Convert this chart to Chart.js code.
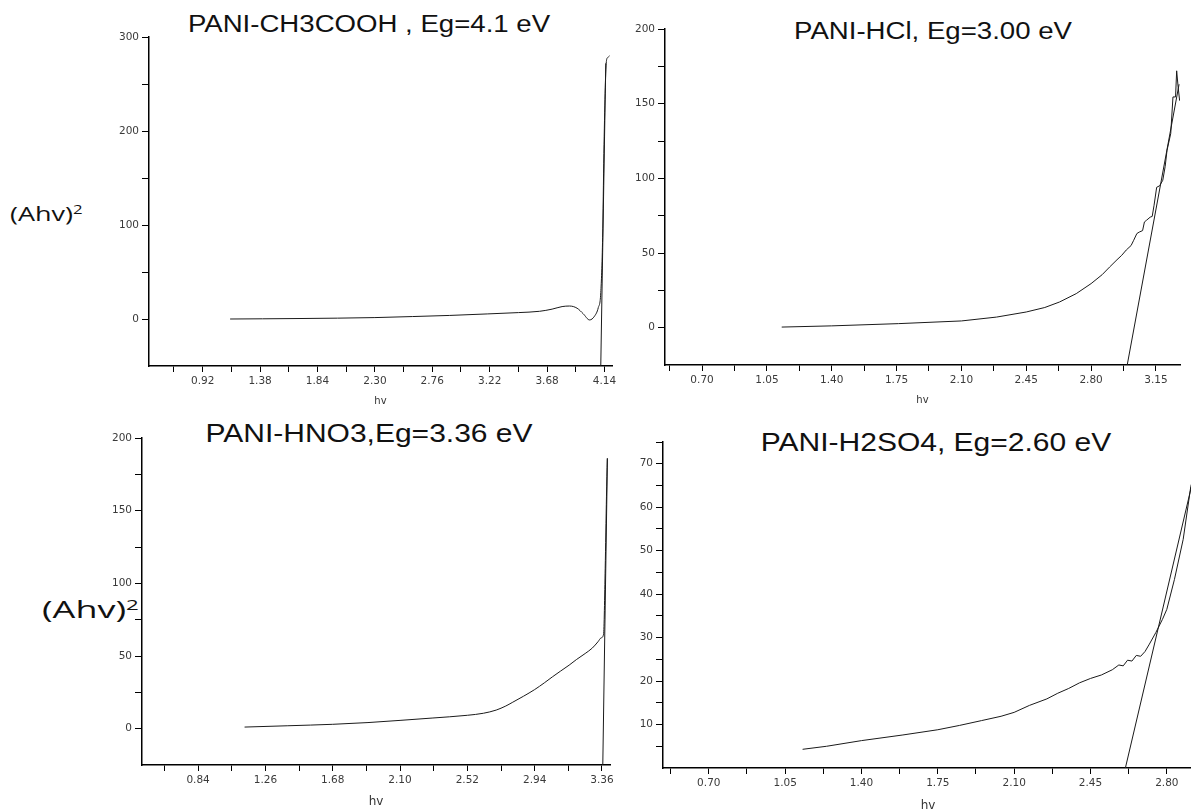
<!DOCTYPE html>
<html lang="en">
<head>
    <meta charset="UTF-8">
    <title>PANI band gap (Tauc plots)</title>
    <script src="https://cdn.jsdelivr.net/npm/chart.js"></script>
    <style>
        * {
            margin: 0;
            padding: 0;
            box-sizing: border-box;
        }
        body {
            width: 1191px;
            height: 812px;
            overflow: hidden;
            position: relative;
            background: #fff;
            font-family: 'Liberation Sans', Arial, sans-serif;
        }
        .panel {
            position: absolute;
        }
        .title {
            position: absolute;
            color: #111;
            white-space: nowrap;
            transform: translateX(-50%) scaleX(1.2);
        }
        .ylab {
            position: absolute;
            font-family: 'Open Sans', sans-serif;
            color: #111;
            white-space: nowrap;
            transform-origin: left center;
        }
        .ylab sup {
            font-size: 0.62em;
            vertical-align: 0.55em;
            line-height: 0;
        }
    </style>
</head>
<body>
    <div class="title" style="left: 369px; top: 13px; font-size: 23px; line-height: 23px;">PANI-CH3COOH , Eg=4.1 eV</div>
    <div class="title" style="left: 933px; top: 20px; font-size: 23px; line-height: 23px;">PANI-HCl, Eg=3.00 eV</div>
    <div class="title" style="left: 369px; top: 421px; font-size: 25px; line-height: 25px;">PANI-HNO3,Eg=3.36 eV</div>
    <div class="title" style="left: 936px; top: 430px; font-size: 25px; line-height: 25px;">PANI-H2SO4, Eg=2.60 eV</div>

    <div class="ylab" style="left: 10px; top: 200px; font-size: 20px; line-height: 28px; transform: scaleX(1.35);">(Ahv)<sup>2</sup></div>
    <div class="ylab" style="left: 42px; top: 592px; font-size: 24px; line-height: 34px; transform: scaleX(1.5);">(Ahv)<sup>2</sup></div>

    <div class="panel" style="left: 109px; top: 27px; width: 517px; height: 380px;"><canvas id="chart1"></canvas></div>
    <div class="panel" style="left: 625px; top: 19px; width: 569px; height: 387px;"><canvas id="chart2"></canvas></div>
    <div class="panel" style="left: 102px; top: 428px; width: 522px; height: 381px;"><canvas id="chart3"></canvas></div>
    <div class="panel" style="left: 623px; top: 432px; width: 572px; height: 381px;"><canvas id="chart4"></canvas></div>

    <script>
        // PANI-CH3COOH
        const hv1 = [1.14, 1.40, 1.70, 2.00, 2.30, 2.60, 2.90, 3.20, 3.45, 3.62, 3.72, 3.80, 3.86, 3.92, 3.97, 4.02, 4.06, 4.09, 4.11, 4.125, 4.135, 4.145, 4.155, 4.165, 4.18];
        const ahv1 = [0, 0.2, 0.5, 0.9, 1.5, 2.6, 3.8, 5.4, 6.8, 8.2, 10.5, 13.2, 13.8, 11.5, 5.5, -1, 3, 12, 28, 87, 176, 240, 274, 278, 280];
        const tanHv1 = [4.11, 4.15];
        const tanAhv1 = [-50, 272];
        const xTicks1 = [0.92, 1.38, 1.84, 2.30, 2.76, 3.22, 3.68, 4.14];
        const yTicks1 = [0, 100, 200, 300];

        // PANI-HCl
        const hv2 = [1.13, 1.40, 1.76, 2.10, 2.29, 2.45, 2.55, 2.63, 2.72, 2.80, 2.86, 2.90, 2.94, 2.965, 2.99, 3.016, 3.03, 3.047, 3.06, 3.078, 3.088, 3.10, 3.119, 3.13, 3.14, 3.154, 3.17, 3.187, 3.20, 3.21, 3.23, 3.242, 3.256, 3.262, 3.27, 3.278];
        const ahv2 = [0.4, 1.2, 2.7, 4.5, 7.1, 10.5, 13.5, 17.2, 22.8, 29.5, 35.5, 40.6, 45.5, 48.4, 52, 55, 58.5, 63, 64, 65, 70.8, 72, 74, 74.5, 82, 94, 95, 98.7, 108, 118.8, 130, 154.5, 154.5, 172, 161, 152];
        const tanHv2 = [2.995, 3.275];
        const tanAhv2 = [-25, 163];
        const xTicks2 = [0.70, 1.05, 1.40, 1.75, 2.10, 2.45, 2.80, 3.15];
        const yTicks2 = [0, 50, 100, 150, 200];

        // PANI-HNO3
        const hv3 = [1.13, 1.40, 1.68, 1.90, 2.10, 2.30, 2.52, 2.62, 2.70, 2.76, 2.80, 2.87, 2.94, 3.00, 3.05, 3.10, 3.155, 3.20, 3.255, 3.30, 3.335, 3.355, 3.37, 3.38, 3.388, 3.393];
        const ahv3 = [1.1, 2.0, 3.0, 4.2, 5.7, 7.3, 9.2, 10.6, 12.8, 15.6, 18.0, 22.3, 26.9, 31.5, 35.6, 39.5, 43.7, 47.5, 51.7, 55.5, 59.8, 62.5, 65, 110, 160, 186];
        const tanHv3 = [3.365, 3.394];
        const tanAhv3 = [-25, 186];
        const xTicks3 = [0.84, 1.26, 1.68, 2.10, 2.52, 2.94, 3.36];
        const yTicks3 = [0, 50, 100, 150, 200];

        // PANI-H2SO4
        const hv4 = [1.13, 1.24, 1.40, 1.59, 1.75, 1.85, 1.95, 2.04, 2.10, 2.17, 2.25, 2.30, 2.35, 2.40, 2.45, 2.50, 2.55, 2.58, 2.60, 2.62, 2.64, 2.66, 2.68, 2.70, 2.72, 2.75, 2.78, 2.80, 2.835, 2.875, 2.91, 2.92];
        const ahv4 = [4.3, 5.0, 6.3, 7.6, 8.8, 9.8, 10.9, 11.9, 12.8, 14.4, 15.9, 17.2, 18.3, 19.6, 20.6, 21.4, 22.6, 23.7, 23.5, 24.8, 24.6, 25.9, 25.7, 26.8, 28.5, 31.2, 34.2, 36.5, 43.4, 52.6, 64.8, 66.5];
        const tanHv4 = [2.61, 2.92];
        const tanAhv4 = [0, 66.3];
        const xTicks4 = [0.70, 1.05, 1.40, 1.75, 2.10, 2.45, 2.80];
        const yTicks4 = [0, 10, 20, 30, 40, 50, 60, 70];

        const ink = '#1a1a1a';
        const tickFont = { family: "'DejaVu Sans', sans-serif", size: 10.5 };

        // major ticks with labels plus unlabelled minor ticks halfway between
        function tickList(majors, min, max, digits) {
            const step = majors[1] - majors[0];
            const list = [];
            majors.forEach(m => {
                list.push({ value: m, lab: m.toFixed(digits) });
                list.push({ value: m - step / 2, lab: '' });
                list.push({ value: m + step / 2, lab: '' });
            });
            const seen = {};
            return list.filter(t => {
                const key = t.value.toFixed(4);
                if (seen[key] || t.value < min - 1e-9 || t.value > max + 1e-9) return false;
                seen[key] = true;
                return true;
            }).sort((a, b) => a.value - b.value);
        }

        function toPoints(xs, ys) {
            return xs.map((x, i) => ({ x: x, y: ys[i] }));
        }

        function createPanel(id, p) {
            const xt = tickList(p.xTicks, p.xMin, p.xMax, 2);
            const yt = tickList(p.yTicks, p.yMin + 0.001, p.yMax, 0);
            return new Chart(document.getElementById(id), {
                type: 'line',
                data: {
                    datasets: [{
                        data: toPoints(p.hv, p.ahv),
                        borderColor: ink,
                        borderWidth: 1,
                        pointRadius: 0,
                        cubicInterpolationMode: p.smooth ? 'monotone' : 'default',
                        tension: 0
                    }, {
                        data: toPoints(p.tanHv, p.tanAhv),
                        borderColor: ink,
                        borderWidth: 1,
                        pointRadius: 0
                    }]
                },
                options: {
                    responsive: true,
                    maintainAspectRatio: false,
                    animation: false,
                    events: [],
                    layout: { padding: { left: 0, right: p.padRight, top: 10, bottom: 0 } },
                    plugins: {
                        legend: { display: false },
                        tooltip: { enabled: false }
                    },
                    scales: {
                        x: {
                            type: 'linear',
                            min: p.xMin,
                            max: p.xMax,
                            afterBuildTicks: s => { s.ticks = xt.map(t => ({ value: t.value, lab: t.lab })); },
                            afterFit: s => { s.height = p.xAxisHeight; },
                            border: { display: true, color: '#000', width: 1.5 },
                            grid: { drawOnChartArea: false, drawTicks: true, tickLength: 6, tickColor: '#000', tickWidth: 1 },
                            ticks: {
                                autoSkip: false,
                                maxRotation: 0,
                                padding: 3,
                                color: '#3a3a3a',
                                font: tickFont,
                                callback: (v, i, ticks) => ticks[i].lab
                            },
                            title: {
                                display: true,
                                text: 'hv',
                                color: '#333',
                                font: { family: "'DejaVu Sans', sans-serif", size: p.hvSize },
                                padding: { top: 0, bottom: 0 }
                            }
                        },
                        y: {
                            min: p.yMin,
                            max: p.yMax,
                            afterBuildTicks: s => { s.ticks = yt.map(t => ({ value: t.value, lab: t.lab })); },
                            afterFit: s => { s.width = 40; },
                            border: { display: true, color: '#000', width: 1.5 },
                            grid: { drawOnChartArea: false, drawTicks: true, tickLength: 7, tickColor: '#000', tickWidth: 1 },
                            ticks: {
                                autoSkip: false,
                                padding: 3,
                                color: '#3a3a3a',
                                font: tickFont,
                                callback: (v, i, ticks) => ticks[i].lab
                            }
                        }
                    }
                }
            });
        }

        createPanel('chart1', {
            hv: hv1, ahv: ahv1, tanHv: tanHv1, tanAhv: tanAhv1, smooth: true,
            xTicks: xTicks1, yTicks: yTicks1,
            xMin: 0.49, xMax: 4.2, yMin: -50, yMax: 300,
            padRight: 14, xAxisHeight: 41, hvSize: 10
        });
        createPanel('chart2', {
            hv: hv2, ahv: ahv2, tanHv: tanHv2, tanAhv: tanAhv2, smooth: false,
            xTicks: xTicks2, yTicks: yTicks2,
            xMin: 0.5, xMax: 3.28, yMin: -25, yMax: 200,
            padRight: 14, xAxisHeight: 41, hvSize: 10
        });
        createPanel('chart3', {
            hv: hv3, ahv: ahv3, tanHv: tanHv3, tanAhv: tanAhv3, smooth: true,
            xTicks: xTicks3, yTicks: yTicks3,
            xMin: 0.49, xMax: 3.41, yMin: -25, yMax: 200,
            padRight: 14, xAxisHeight: 44, hvSize: 12
        });
        createPanel('chart4', {
            hv: hv4, ahv: ahv4, tanHv: tanHv4, tanAhv: tanAhv4, smooth: false,
            xTicks: xTicks4, yTicks: yTicks4,
            xMin: 0.49, xMax: 2.92, yMin: 0, yMax: 75,
            padRight: 2, xAxisHeight: 45, hvSize: 12
        });
    </script>
</body>
</html>
